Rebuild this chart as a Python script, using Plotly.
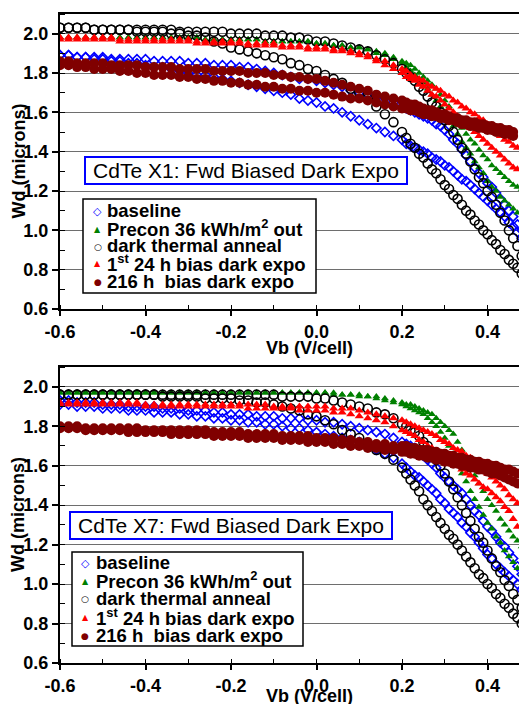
import plotly.graph_objects as go

# ---------------- data ----------------
# bias voltage grid (V/cell)
VB = [-0.60, -0.58, -0.56, -0.54, -0.52, -0.50, -0.48, -0.46, -0.44, -0.42,
      -0.40, -0.38, -0.36, -0.34, -0.32, -0.30, -0.28, -0.26, -0.24, -0.22,
      -0.20, -0.18, -0.16, -0.14, -0.12, -0.10, -0.08, -0.06, -0.04, -0.02,
      0.00, 0.02, 0.04, 0.06, 0.08, 0.10, 0.12, 0.14, 0.16, 0.18,
      0.20, 0.21, 0.22, 0.23, 0.24, 0.25, 0.26, 0.27, 0.28, 0.29,
      0.30, 0.31, 0.32, 0.33, 0.34, 0.35, 0.36, 0.37, 0.38, 0.39,
      0.40, 0.41, 0.42, 0.43, 0.44, 0.45, 0.46, 0.47, 0.48, 0.49]

SERIES_LABELS = ["baseline",
                 "Precon 36 kWh/m<sup>2</sup> out",
                 "dark thermal anneal",
                 "1<sup>st</sup> 24 h bias dark expo",
                 "216 h\u00a0 bias dark expo"]

PANEL_TITLES = ["CdTe X1: Fwd Biased Dark Expo", "CdTe X7: Fwd Biased Dark Expo"]
X_TITLE = "Vb (V/cell)"
Y_TITLE = "Wd (microns)"

X_TICKS = [-0.6, -0.4, -0.2, 0.0, 0.2, 0.4]
X_TICK_TEXT = ["-0.6", "-0.4", "-0.2", "0.0", "0.2", "0.4"]
Y_TICKS = [0.6, 0.8, 1.0, 1.2, 1.4, 1.6, 1.8, 2.0]
Y_TICK_TEXT = ["0.6", "0.8", "1.0", "1.2", "1.4", "1.6", "1.8", "2.0"]

# ---- CdTe X1 (top panel), Wd in microns, two sweeps per condition ----
x1_baseline_a = [1.89, 1.89, 1.88, 1.88, 1.88, 1.88, 1.87, 1.87, 1.87, 1.87,
                 1.87, 1.86, 1.86, 1.86, 1.86, 1.85, 1.85, 1.85, 1.84, 1.84,
                 1.84, 1.83, 1.83, 1.82, 1.81, 1.80, 1.79, 1.78, 1.77, 1.77,
                 1.76, 1.75, 1.74, 1.73, 1.71, 1.70, 1.69, 1.68, 1.67, 1.65,
                 1.63, 1.62, 1.61, 1.60, 1.59, 1.58, 1.57, 1.56, 1.54, 1.53,
                 1.51, 1.49, 1.46, 1.44, 1.41, 1.38, 1.35, 1.32, 1.29, 1.27,
                 1.24, 1.22, 1.19, 1.16, 1.13, 1.10, 1.07, 1.03, 1.00]
x1_baseline_b = [1.89, 1.89, 1.88, 1.88, 1.87, 1.87, 1.86, 1.86, 1.85, 1.85,
                 1.84, 1.83, 1.83, 1.82, 1.81, 1.80, 1.79, 1.79, 1.78, 1.77,
                 1.76, 1.75, 1.74, 1.73, 1.72, 1.71, 1.70, 1.69, 1.67, 1.66,
                 1.65, 1.63, 1.62, 1.60, 1.58, 1.56, 1.54, 1.52, 1.50, 1.48,
                 1.46, 1.44, 1.43, 1.42, 1.41, 1.40, 1.39, 1.37, 1.36, 1.35,
                 1.33, 1.32, 1.30, 1.28, 1.26, 1.25, 1.23, 1.21, 1.19, 1.17,
                 1.15, 1.13, 1.11, 1.09, 1.07, 1.04, 1.02, 0.99, 0.96, 0.93]
x1_precon_a = [1.98, 1.98, 1.98, 1.98, 1.98, 1.98, 1.98, 1.98, 1.98, 1.98,
               1.98, 1.98, 1.98, 1.98, 1.98, 1.98, 1.98, 1.97, 1.97, 1.97,
               1.97, 1.97, 1.97, 1.97, 1.96, 1.96, 1.96, 1.96, 1.96, 1.96,
               1.95, 1.95, 1.94, 1.94, 1.93, 1.93, 1.92, 1.91, 1.90, 1.88,
               1.86, 1.85, 1.84, 1.82, 1.80, 1.78, 1.76, 1.74, 1.72, 1.69,
               1.66, 1.63, 1.59, 1.56, 1.52, 1.49, 1.46, 1.44, 1.41, 1.38,
               1.36, 1.33, 1.31, 1.29, 1.27, 1.25, 1.23, 1.22, 1.21]
x1_precon_b = [1.98, 1.98, 1.98, 1.98, 1.98, 1.98, 1.98, 1.98, 1.98, 1.98,
               1.98, 1.98, 1.98, 1.98, 1.98, 1.98, 1.98, 1.97, 1.97, 1.97,
               1.97, 1.97, 1.97, 1.97, 1.96, 1.96, 1.96, 1.96, 1.96, 1.96,
               1.95, 1.95, 1.94, 1.94, 1.93, 1.93, 1.92, 1.90, 1.89, 1.87,
               1.85, 1.83, 1.81, 1.79, 1.77, 1.75, 1.72, 1.69, 1.66, 1.63,
               1.60, 1.57, 1.53, 1.49, 1.45, 1.42, 1.39, 1.35, 1.32, 1.29,
               1.25, 1.22, 1.20, 1.17, 1.15, 1.13, 1.11, 1.09]
x1_anneal_a = [2.03, 2.03, 2.03, 2.03, 2.02, 2.02, 2.02, 2.02, 2.02, 2.02,
               2.02, 2.02, 2.02, 2.02, 2.01, 2.01, 2.01, 2.01, 2.01, 2.01,
               2.00, 2.00, 2.00, 2.00, 1.99, 1.99, 1.99, 1.98, 1.98, 1.97,
               1.96, 1.96, 1.95, 1.94, 1.93, 1.92, 1.91, 1.89, 1.87, 1.85,
               1.82, 1.80, 1.78, 1.76, 1.73, 1.71, 1.68, 1.65, 1.63, 1.60,
               1.56, 1.53, 1.50, 1.46, 1.42, 1.39, 1.35, 1.31, 1.27, 1.24,
               1.20, 1.17, 1.13, 1.09, 1.05, 1.00, 0.96, 0.92, 0.87]
x1_anneal_b = [2.03, 2.03, 2.03, 2.03, 2.02, 2.02, 2.02, 2.02, 2.02, 2.01,
               2.01, 2.01, 2.01, 2.00, 2.00, 1.99, 1.99, 1.98, 1.96, 1.95,
               1.93, 1.92, 1.91, 1.90, 1.89, 1.88, 1.87, 1.85, 1.84, 1.82,
               1.81, 1.79, 1.77, 1.75, 1.72, 1.70, 1.67, 1.63, 1.59, 1.55,
               1.50, 1.47, 1.44, 1.42, 1.39, 1.37, 1.34, 1.31, 1.29, 1.26,
               1.23, 1.21, 1.18, 1.16, 1.13, 1.10, 1.08, 1.05, 1.03, 1.00,
               0.98, 0.95, 0.93, 0.90, 0.88, 0.85, 0.83, 0.81, 0.78]
x1_first_a = [1.98, 1.98, 1.98, 1.98, 1.98, 1.98, 1.98, 1.97, 1.97, 1.97,
              1.97, 1.97, 1.97, 1.97, 1.97, 1.97, 1.96, 1.96, 1.96, 1.96,
              1.96, 1.96, 1.95, 1.95, 1.95, 1.95, 1.94, 1.94, 1.94, 1.93,
              1.93, 1.93, 1.92, 1.92, 1.91, 1.90, 1.89, 1.87, 1.86, 1.84,
              1.82, 1.81, 1.79, 1.78, 1.77, 1.76, 1.74, 1.73, 1.72, 1.71,
              1.69, 1.68, 1.66, 1.65, 1.63, 1.62, 1.60, 1.59, 1.57, 1.56,
              1.54, 1.52, 1.50, 1.48, 1.46, 1.45, 1.43, 1.42]
x1_first_b = [1.97, 1.97, 1.97, 1.97, 1.97, 1.97, 1.97, 1.96, 1.96, 1.96,
              1.96, 1.96, 1.96, 1.96, 1.96, 1.96, 1.95, 1.95, 1.95, 1.95,
              1.95, 1.95, 1.94, 1.94, 1.94, 1.94, 1.93, 1.93, 1.93, 1.92,
              1.92, 1.92, 1.91, 1.91, 1.90, 1.89, 1.88, 1.86, 1.84, 1.82,
              1.80, 1.78, 1.77, 1.76, 1.74, 1.73, 1.71, 1.69, 1.68, 1.66,
              1.64, 1.62, 1.60, 1.58, 1.56, 1.54, 1.52, 1.50, 1.48, 1.46,
              1.44, 1.42, 1.40, 1.38, 1.36, 1.34, 1.32, 1.31]
x1_216h_a = [1.86, 1.86, 1.85, 1.85, 1.85, 1.85, 1.84, 1.84, 1.84, 1.84,
             1.83, 1.83, 1.83, 1.83, 1.82, 1.82, 1.82, 1.82, 1.81, 1.81,
             1.81, 1.81, 1.80, 1.80, 1.80, 1.79, 1.79, 1.78, 1.78, 1.77,
             1.77, 1.76, 1.75, 1.74, 1.73, 1.72, 1.71, 1.69, 1.68, 1.67,
             1.66, 1.65, 1.64, 1.64, 1.63, 1.62, 1.61, 1.61, 1.60, 1.59,
             1.59, 1.58, 1.57, 1.57, 1.56, 1.56, 1.55, 1.55, 1.54, 1.54,
             1.53, 1.53, 1.52, 1.52, 1.51, 1.51, 1.50]
x1_216h_b = [1.84, 1.84, 1.83, 1.83, 1.82, 1.82, 1.82, 1.81, 1.81, 1.80,
             1.80, 1.79, 1.79, 1.79, 1.78, 1.78, 1.77, 1.77, 1.76, 1.76,
             1.75, 1.75, 1.74, 1.74, 1.73, 1.73, 1.72, 1.72, 1.71, 1.71,
             1.70, 1.70, 1.69, 1.68, 1.67, 1.67, 1.66, 1.65, 1.64, 1.63,
             1.62, 1.62, 1.61, 1.61, 1.60, 1.59, 1.59, 1.58, 1.58, 1.57,
             1.57, 1.56, 1.56, 1.55, 1.54, 1.54, 1.53, 1.53, 1.52, 1.52,
             1.51, 1.51, 1.50, 1.50, 1.49, 1.49, 1.48]

# ---- CdTe X7 (bottom panel) ----
x7_baseline_a = [1.93, 1.93, 1.92, 1.92, 1.92, 1.91, 1.91, 1.91, 1.90, 1.90,
                 1.90, 1.90, 1.89, 1.89, 1.89, 1.88, 1.88, 1.88, 1.87, 1.87,
                 1.86, 1.86, 1.86, 1.85, 1.85, 1.85, 1.84, 1.84, 1.84, 1.83,
                 1.83, 1.82, 1.82, 1.81, 1.80, 1.79, 1.78, 1.77, 1.76, 1.74,
                 1.72, 1.71, 1.70, 1.69, 1.67, 1.65, 1.63, 1.61, 1.59, 1.56,
                 1.54, 1.52, 1.50, 1.48, 1.46, 1.43, 1.40, 1.37, 1.35, 1.32,
                 1.29, 1.27, 1.24, 1.21, 1.19, 1.16, 1.13, 1.09, 1.05]
x7_baseline_b = [1.91, 1.91, 1.90, 1.90, 1.90, 1.89, 1.89, 1.89, 1.88, 1.88,
                 1.88, 1.87, 1.87, 1.87, 1.86, 1.86, 1.85, 1.85, 1.84, 1.84,
                 1.83, 1.83, 1.82, 1.82, 1.81, 1.81, 1.80, 1.79, 1.79, 1.78,
                 1.77, 1.76, 1.75, 1.74, 1.73, 1.72, 1.70, 1.68, 1.66, 1.64,
                 1.61, 1.59, 1.57, 1.55, 1.54, 1.52, 1.50, 1.48, 1.46, 1.43,
                 1.41, 1.38, 1.36, 1.34, 1.31, 1.29, 1.26, 1.24, 1.21, 1.18,
                 1.15, 1.13, 1.10, 1.08, 1.06, 1.04, 1.02, 1.00, 0.97]
x7_precon_a = [1.97, 1.97, 1.97, 1.97, 1.97, 1.97, 1.97, 1.97, 1.97, 1.97,
               1.97, 1.97, 1.97, 1.97, 1.97, 1.97, 1.97, 1.97, 1.97, 1.97,
               1.97, 1.97, 1.97, 1.97, 1.97, 1.97, 1.97, 1.97, 1.97, 1.97,
               1.97, 1.97, 1.97, 1.96, 1.96, 1.96, 1.95, 1.95, 1.94, 1.93,
               1.92, 1.91, 1.91, 1.90, 1.89, 1.88, 1.87, 1.86, 1.84, 1.82,
               1.80, 1.78, 1.76, 1.72, 1.68, 1.63, 1.59, 1.55, 1.51, 1.47,
               1.43, 1.40, 1.37, 1.33, 1.30, 1.27, 1.24, 1.22, 1.19]
x7_precon_b = [1.97, 1.97, 1.97, 1.97, 1.97, 1.97, 1.97, 1.97, 1.97, 1.97,
               1.97, 1.97, 1.97, 1.97, 1.97, 1.97, 1.97, 1.97, 1.97, 1.97,
               1.97, 1.97, 1.97, 1.97, 1.97, 1.97, 1.97, 1.97, 1.97, 1.97,
               1.97, 1.97, 1.96, 1.96, 1.96, 1.95, 1.95, 1.94, 1.93, 1.92,
               1.91, 1.90, 1.89, 1.88, 1.87, 1.86, 1.84, 1.82, 1.80, 1.77,
               1.74, 1.70, 1.66, 1.61, 1.56, 1.52, 1.47, 1.43, 1.39, 1.35,
               1.31, 1.28, 1.24, 1.21, 1.17, 1.14, 1.11, 1.08, 1.05]
x7_anneal_a = [1.96, 1.96, 1.96, 1.96, 1.96, 1.96, 1.96, 1.96, 1.96, 1.96,
               1.96, 1.96, 1.96, 1.96, 1.96, 1.96, 1.96, 1.96, 1.96, 1.96,
               1.96, 1.96, 1.96, 1.96, 1.96, 1.96, 1.95, 1.95, 1.95, 1.95,
               1.94, 1.94, 1.93, 1.92, 1.91, 1.90, 1.89, 1.87, 1.86, 1.84,
               1.81, 1.80, 1.78, 1.77, 1.75, 1.72, 1.70, 1.66, 1.63, 1.60,
               1.56, 1.52, 1.48, 1.44, 1.40, 1.36, 1.32, 1.28, 1.24, 1.21,
               1.17, 1.13, 1.09, 1.06, 1.02, 0.99, 0.95, 0.92, 0.88]
x7_anneal_b = [1.96, 1.96, 1.96, 1.96, 1.96, 1.96, 1.96, 1.96, 1.96, 1.96,
               1.96, 1.96, 1.95, 1.95, 1.95, 1.95, 1.95, 1.94, 1.94, 1.94,
               1.94, 1.93, 1.93, 1.92, 1.92, 1.91, 1.90, 1.89, 1.88, 1.86,
               1.85, 1.83, 1.81, 1.78, 1.76, 1.74, 1.71, 1.68, 1.66, 1.63,
               1.59, 1.56, 1.53, 1.50, 1.47, 1.43, 1.40, 1.37, 1.34, 1.31,
               1.28, 1.25, 1.23, 1.20, 1.17, 1.14, 1.11, 1.08, 1.05, 1.03,
               1.00, 0.98, 0.95, 0.93, 0.90, 0.88, 0.85, 0.83, 0.80]
x7_first_a = [1.92, 1.92, 1.92, 1.92, 1.92, 1.92, 1.92, 1.92, 1.92, 1.92,
              1.91, 1.91, 1.91, 1.91, 1.91, 1.91, 1.91, 1.91, 1.91, 1.91,
              1.91, 1.91, 1.91, 1.91, 1.91, 1.90, 1.90, 1.90, 1.90, 1.90,
              1.90, 1.90, 1.89, 1.89, 1.89, 1.88, 1.87, 1.86, 1.85, 1.84,
              1.83, 1.82, 1.81, 1.80, 1.79, 1.78, 1.77, 1.76, 1.75, 1.73,
              1.72, 1.71, 1.69, 1.68, 1.67, 1.65, 1.64, 1.62, 1.60, 1.58,
              1.56, 1.54, 1.52, 1.50, 1.48, 1.45, 1.43, 1.41]
x7_first_b = [1.91, 1.91, 1.91, 1.91, 1.91, 1.91, 1.91, 1.91, 1.91, 1.91,
              1.90, 1.90, 1.90, 1.90, 1.90, 1.90, 1.90, 1.90, 1.90, 1.90,
              1.90, 1.90, 1.89, 1.89, 1.89, 1.89, 1.89, 1.89, 1.88, 1.88,
              1.88, 1.88, 1.87, 1.87, 1.86, 1.85, 1.84, 1.83, 1.82, 1.80,
              1.78, 1.77, 1.76, 1.75, 1.73, 1.72, 1.70, 1.69, 1.67, 1.66,
              1.64, 1.63, 1.61, 1.60, 1.58, 1.56, 1.55, 1.53, 1.51, 1.49,
              1.48, 1.46, 1.44, 1.42, 1.39, 1.37, 1.33, 1.29]
x7_216h_a = [1.80, 1.80, 1.80, 1.79, 1.79, 1.79, 1.79, 1.79, 1.79, 1.79,
             1.78, 1.78, 1.78, 1.78, 1.78, 1.78, 1.78, 1.78, 1.77, 1.77,
             1.77, 1.77, 1.76, 1.76, 1.76, 1.76, 1.75, 1.75, 1.75, 1.75,
             1.74, 1.74, 1.74, 1.73, 1.73, 1.72, 1.72, 1.71, 1.71, 1.70,
             1.70, 1.70, 1.69, 1.69, 1.68, 1.68, 1.68, 1.67, 1.67, 1.66,
             1.66, 1.65, 1.65, 1.64, 1.64, 1.63, 1.63, 1.62, 1.62, 1.61,
             1.61, 1.60, 1.60, 1.59, 1.58, 1.58, 1.57, 1.56]
x7_216h_b = [1.79, 1.79, 1.79, 1.78, 1.78, 1.78, 1.78, 1.78, 1.77, 1.77,
             1.77, 1.77, 1.77, 1.76, 1.76, 1.76, 1.76, 1.76, 1.75, 1.75,
             1.75, 1.75, 1.74, 1.74, 1.74, 1.74, 1.73, 1.73, 1.73, 1.72,
             1.72, 1.72, 1.71, 1.71, 1.70, 1.70, 1.69, 1.69, 1.68, 1.68,
             1.67, 1.67, 1.66, 1.66, 1.65, 1.65, 1.64, 1.64, 1.63, 1.63,
             1.62, 1.62, 1.61, 1.61, 1.60, 1.60, 1.59, 1.59, 1.58, 1.58,
             1.57, 1.56, 1.56, 1.55, 1.54, 1.53, 1.52, 1.51]

PANELS = [
    [(x1_baseline_a, x1_baseline_b), (x1_precon_a, x1_precon_b),
     (x1_anneal_a, x1_anneal_b), (x1_first_a, x1_first_b), (x1_216h_a, x1_216h_b)],
    [(x7_baseline_a, x7_baseline_b), (x7_precon_a, x7_precon_b),
     (x7_anneal_a, x7_anneal_b), (x7_first_a, x7_first_b), (x7_216h_a, x7_216h_b)],
]

# ---------------- styles ----------------
FONT = "Liberation Sans, Arial, Helvetica, sans-serif"
GLYPH_FONT = "DejaVu Sans, sans-serif"
COLORS = ["#0000ff", "#008000", "#000000", "#ff0000", "#800000"]
MARKERS = [
    dict(symbol="diamond-open", color=COLORS[0], size=7, line=dict(width=1.6, color=COLORS[0])),
    dict(symbol="triangle-up", color=COLORS[1], size=7),
    dict(symbol="circle-open", color=COLORS[2], size=9, line=dict(width=1.6, color=COLORS[2])),
    dict(symbol="triangle-up", color=COLORS[3], size=8),
    dict(symbol="circle", color=COLORS[4], size=10),
]
LEGEND_GLYPHS = ["\u25c7", "\u25b2", "\u25cb", "\u25b2", "\u25cf"]
GLYPH_SIZES = [11, 8, 9, 8, 9]

# The page body adds an 8 px margin, so the figure is 8 px smaller and all
# reference pixel positions below are given in page (screenshot) pixels.
PAGE_OFFSET = 8
W, H = 527 - PAGE_OFFSET, 704 - PAGE_OFFSET
ML = 60 - PAGE_OFFSET
MT = 14 - PAGE_OFFSET
MR = 0
MB = (704 - 663)
PW, PH = W - ML - MR, H - MT - MB


def px_to_paper_x(px):
    return (px - PAGE_OFFSET - ML) / PW


def px_to_paper_y(py):
    return (H - MB - (py - PAGE_OFFSET)) / PH


fig = go.Figure()
axis_names = [("x", "y"), ("x2", "y2")]
for p, panel in enumerate(PANELS):
    xa, ya = axis_names[p]
    for k, pair in enumerate(panel):
        for s, vals in enumerate(pair):
            fig.add_trace(go.Scatter(
                x=VB[:len(vals)], y=vals, mode="markers",
                marker=MARKERS[k], name=SERIES_LABELS[k],
                showlegend=False, xaxis=xa, yaxis=ya, hoverinfo="skip"))

top_dom = [px_to_paper_y(309), px_to_paper_y(14)]
bot_dom = [px_to_paper_y(663), px_to_paper_y(367)]
x_range = [-0.6, -0.6 + PW / 427.5]

common_x = dict(
    range=x_range, domain=[0, 1], showgrid=False, zeroline=False, automargin=False,
    showline=True, linecolor="black", linewidth=2, mirror=True,
    tickvals=X_TICKS, ticktext=X_TICK_TEXT,
    ticks="outside", ticklen=5, tickwidth=1.5, tickcolor="black",
    minor=dict(dtick=0.1, tick0=-0.6, ticks="inside", ticklen=4, tickwidth=1.2,
               tickcolor="black", showgrid=False),
    tickfont=dict(family=FONT, size=18, color="black", weight="bold"),
)
common_y = dict(
    range=[0.6, 2.1], showgrid=True, gridcolor="#6e6e6e", gridwidth=1.4,
    zeroline=False, showline=True, linecolor="black", linewidth=2, automargin=False,
    tickvals=Y_TICKS, ticktext=Y_TICK_TEXT,
    ticks="outside", ticklen=6, tickwidth=1.5, tickcolor="black",
    minor=dict(dtick=0.1, tick0=0.6, ticks="inside", ticklen=5, tickwidth=1.2,
               tickcolor="black", showgrid=False),
    tickfont=dict(family=FONT, size=18, color="black", weight="bold"),
)

fig.update_layout(
    width=W, height=H, autosize=False,
    margin=dict(l=ML, r=MR, t=MT, b=MB, pad=0, autoexpand=False),
    paper_bgcolor="white", plot_bgcolor="white",
    xaxis=dict(common_x, anchor="y"),
    yaxis=dict(common_y, anchor="x", domain=top_dom),
    xaxis2=dict(common_x, anchor="y2"),
    yaxis2=dict(common_y, anchor="x2", domain=bot_dom),
    showlegend=False,
)

annos = []
shapes = []
bold = dict(family=FONT, size=18, color="black", weight="bold")
legend_font = dict(family=FONT, size=18.5, color="black", weight="bold")
# axis titles
for yc in (161.5, 515):
    annos.append(dict(text=Y_TITLE, xref="paper", yref="paper",
                      x=px_to_paper_x(18), y=px_to_paper_y(yc), textangle=-90,
                      showarrow=False, xanchor="center", yanchor="middle", font=bold))
for yc in (348, 696):
    annos.append(dict(text=X_TITLE, xref="paper", yref="paper",
                      x=px_to_paper_x(309), y=px_to_paper_y(yc),
                      showarrow=False, xanchor="center", yanchor="middle", font=bold))
# panel title boxes
for title, xc, yc in ((PANEL_TITLES[0], 246, 170), (PANEL_TITLES[1], 231, 525)):
    annos.append(dict(text=title, xref="paper", yref="paper",
                      x=px_to_paper_x(xc), y=px_to_paper_y(yc),
                      showarrow=False, xanchor="center", yanchor="middle",
                      width=318, bgcolor="white", bordercolor="#0000ff",
                      borderwidth=2, borderpad=1,
                      font=dict(family=FONT, size=21, color="black")))

# legend boxes (one per panel): box edges, glyph centre x, text x, row centres
LEGEND_LAYOUT = [
    dict(box=(83, 199, 316, 293), glyph_x=97.5, text_x=105, rows=(210, 228, 245.5, 263, 281)),
    dict(box=(72, 552, 303, 646), glyph_x=85, text_x=94, rows=(562, 580, 598, 616.5, 635)),
]
for lg in LEGEND_LAYOUT:
    x0, y0, x1, y1 = lg["box"]
    shapes.append(dict(type="rect", xref="paper", yref="paper",
                       x0=px_to_paper_x(x0), x1=px_to_paper_x(x1),
                       y0=px_to_paper_y(y1), y1=px_to_paper_y(y0),
                       line=dict(color="black", width=1.5), fillcolor="white",
                       layer="above"))
    for k, yc in enumerate(lg["rows"]):
        annos.append(dict(text=LEGEND_GLYPHS[k], xref="paper", yref="paper",
                          x=px_to_paper_x(lg["glyph_x"]), y=px_to_paper_y(yc + 1),
                          showarrow=False, xanchor="center", yanchor="middle",
                          font=dict(family=GLYPH_FONT, size=GLYPH_SIZES[k],
                                    color=COLORS[k], weight="bold")))
        annos.append(dict(text=SERIES_LABELS[k], xref="paper", yref="paper",
                          x=px_to_paper_x(lg["text_x"]), y=px_to_paper_y(yc),
                          showarrow=False, xanchor="left", yanchor="middle",
                          font=legend_font))

fig.update_layout(annotations=annos, shapes=shapes)

fig.write_html("out.html")
